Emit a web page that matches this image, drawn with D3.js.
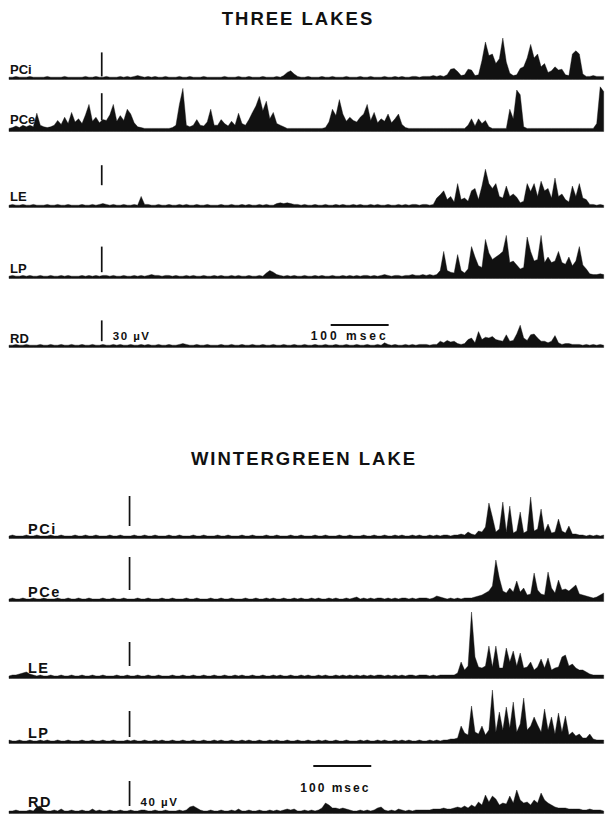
<!DOCTYPE html>
<html>
<head>
<meta charset="utf-8">
<script src="https://cdn.jsdelivr.net/npm/d3@7"></script>
<style>
  body { margin: 0; background: #fff; }
  svg { display: block; font-family: 'Liberation Sans', Arial, sans-serif; }
</style>
</head>
<body>
<svg width="606" height="821"></svg>
<script>
/* global d3 */

const titles = ['THREE LAKES', 'WINTERGREEN LAKE']
const muscles = ['PCi', 'PCe', 'LE', 'LP', 'RD']
const sampleMs = 6 // one amplitude value every 6 msec
const stimMs = [160, 208]
const calLabels = ['30 µV', '40 µV']
const timeBarMs = [[555, 655], [525, 625]]
const timeBarLabel = '100 msec'

// stimulus / calibration strokes: [bottom, top] in trace units above the baseline
const stimTL = [[2, 32], [12, 46], [26, 51], [6, 38], [6, 32]]
const stimWG = [[11, 41], [10, 43], [11, 35], [5, 31], [6, 31]]

// rectified EMG amplitude, trace units, 172 samples per trace
const tlPCi = [
  1, 1, 2, 1, 1, 1, 2, 1, 1, 1, 1, 2, 1, 1, 1, 1, 2, 1, 1, 1,
  1, 1, 2, 1, 1, 2, 1, 1, 2, 1, 1, 1, 2, 1, 2, 1, 2, 3, 2, 1,
  2, 1, 2, 1, 1, 2, 1, 1, 1, 2, 1, 1, 2, 1, 1, 1, 2, 1, 1, 1,
  1, 1, 2, 1, 1, 1, 2, 1, 1, 2, 1, 1, 1, 2, 1, 1, 1, 2, 1, 3,
  7, 9, 5, 2, 1, 1, 2, 1, 1, 1, 2, 1, 1, 2, 1, 1, 1, 2, 1, 1,
  1, 2, 1, 1, 2, 1, 1, 1, 2, 1, 1, 2, 1, 2, 1, 1, 2, 2, 1, 2,
  2, 2, 3, 2, 3, 2, 4, 11, 12, 8, 3, 4, 11, 10, 3, 4, 22, 45, 28, 30,
  18, 24, 50, 20, 6, 3, 4, 12, 14, 25, 42, 25, 30, 14, 18, 7, 9, 14, 10, 11,
  4, 3, 30, 34, 30, 5, 2, 2, 3, 2, 2, 2
]
const tlPCe = [
  2, 3, 5, 3, 6, 4, 6, 4, 21, 6, 4, 3, 4, 6, 12, 7, 16, 8, 22, 10,
  14, 8, 19, 32, 11, 16, 9, 13, 12, 19, 32, 11, 18, 12, 26, 20, 9, 4, 3, 2,
  2, 2, 2, 2, 2, 2, 2, 3, 6, 32, 52, 6, 4, 6, 13, 6, 5, 10, 26, 6,
  6, 13, 8, 5, 11, 6, 21, 8, 6, 13, 22, 30, 42, 24, 36, 14, 22, 8, 6, 4,
  2, 2, 2, 2, 2, 2, 2, 2, 2, 2, 2, 3, 10, 26, 18, 38, 20, 11, 16, 12,
  10, 16, 20, 32, 12, 22, 9, 14, 11, 20, 9, 14, 20, 7, 3, 2, 2, 2, 2, 2,
  2, 2, 2, 2, 2, 2, 2, 2, 2, 2, 2, 2, 6, 14, 5, 14, 8, 12, 4, 2,
  2, 2, 2, 2, 26, 14, 50, 44, 4, 2, 2, 2, 2, 2, 2, 2, 2, 2, 2, 2,
  2, 2, 2, 2, 2, 2, 2, 2, 2, 8, 54, 48
]
const tlLE = [
  1, 2, 1, 1, 2, 1, 1, 2, 1, 1, 1, 2, 1, 1, 2, 1, 1, 2, 1, 1,
  1, 2, 1, 1, 2, 1, 2, 3, 2, 1, 2, 1, 1, 2, 1, 1, 2, 1, 12, 2,
  2, 1, 1, 2, 1, 1, 2, 1, 1, 2, 1, 2, 1, 1, 2, 1, 1, 2, 1, 1,
  1, 2, 1, 1, 2, 1, 1, 2, 1, 2, 1, 1, 2, 1, 2, 1, 1, 3, 4, 3,
  4, 3, 2, 2, 1, 2, 1, 1, 2, 1, 1, 2, 1, 1, 2, 1, 2, 1, 1, 2,
  1, 2, 1, 1, 2, 1, 2, 1, 1, 2, 1, 1, 2, 1, 2, 1, 2, 2, 1, 2,
  2, 1, 2, 10, 14, 19, 8, 12, 5, 28, 8, 10, 6, 19, 22, 8, 25, 46, 28, 22,
  28, 12, 10, 25, 12, 15, 11, 4, 6, 28, 18, 28, 12, 31, 19, 22, 10, 35, 12, 15,
  8, 5, 25, 12, 28, 10, 8, 2, 2, 1, 2, 1
]
const tlLP = [
  1, 2, 1, 1, 2, 1, 2, 1, 1, 2, 1, 1, 2, 1, 1, 2, 1, 2, 1, 1,
  1, 2, 1, 2, 1, 2, 1, 2, 2, 1, 2, 1, 1, 2, 1, 1, 2, 1, 2, 1,
  2, 3, 2, 2, 1, 2, 2, 1, 2, 1, 1, 2, 1, 2, 1, 1, 2, 1, 1, 2,
  1, 2, 1, 1, 2, 1, 2, 1, 1, 2, 1, 1, 2, 1, 5, 8, 6, 3, 2, 1,
  2, 1, 2, 1, 1, 2, 1, 1, 2, 1, 2, 1, 1, 2, 1, 1, 2, 1, 2, 1,
  2, 1, 2, 2, 1, 2, 1, 2, 3, 2, 1, 2, 2, 1, 2, 2, 3, 2, 2, 3,
  2, 3, 2, 3, 8, 32, 8, 6, 5, 28, 8, 5, 10, 38, 25, 14, 12, 47, 30, 22,
  25, 28, 32, 52, 18, 20, 15, 10, 12, 50, 32, 20, 22, 52, 18, 25, 18, 20, 32, 18,
  16, 25, 14, 20, 38, 15, 10, 4, 3, 3, 4, 3
]
const tlRD = [
  1, 1, 2, 1, 1, 2, 1, 1, 1, 2, 1, 1, 2, 1, 1, 2, 1, 1, 2, 1,
  1, 2, 1, 1, 2, 1, 1, 2, 1, 1, 2, 1, 2, 1, 1, 2, 1, 1, 2, 1,
  2, 1, 1, 2, 1, 1, 2, 1, 1, 2, 3, 2, 1, 1, 2, 1, 1, 2, 1, 1,
  1, 2, 1, 1, 2, 1, 1, 2, 1, 1, 2, 1, 1, 2, 1, 1, 2, 1, 1, 2,
  1, 1, 2, 1, 1, 2, 1, 1, 2, 1, 1, 2, 1, 1, 2, 1, 1, 2, 1, 1,
  2, 1, 1, 2, 1, 1, 2, 1, 4, 2, 1, 2, 1, 1, 2, 1, 2, 1, 2, 2,
  2, 1, 2, 2, 6, 4, 7, 5, 6, 3, 2, 3, 8, 10, 4, 18, 8, 11, 10, 12,
  8, 7, 6, 14, 6, 7, 15, 26, 10, 7, 14, 15, 10, 6, 6, 4, 6, 13, 4, 2,
  3, 3, 2, 2, 2, 1, 2, 1, 2, 1, 2, 1
]

const wgPCi = [
  1, 2, 1, 1, 1, 2, 1, 1, 2, 1, 1, 1, 2, 1, 1, 2, 1, 1, 1, 2,
  1, 1, 2, 1, 1, 2, 1, 1, 1, 2, 1, 1, 2, 1, 1, 1, 2, 1, 1, 2,
  1, 1, 2, 1, 1, 1, 2, 1, 1, 2, 1, 1, 1, 2, 1, 1, 2, 1, 1, 1,
  2, 1, 1, 2, 1, 1, 1, 2, 1, 1, 2, 1, 1, 1, 2, 1, 1, 2, 1, 1,
  1, 2, 1, 1, 2, 1, 1, 1, 2, 1, 1, 2, 1, 1, 1, 2, 1, 1, 2, 1,
  1, 1, 2, 1, 1, 2, 1, 1, 2, 1, 1, 2, 1, 2, 1, 1, 2, 1, 2, 1,
  1, 2, 1, 2, 1, 2, 2, 1, 2, 2, 3, 2, 5, 3, 2, 6, 5, 10, 34, 20,
  5, 8, 35, 5, 31, 4, 6, 25, 4, 6, 40, 6, 8, 28, 5, 13, 4, 5, 18, 6,
  4, 11, 3, 3, 2, 2, 1, 2, 1, 2, 1, 2
]
const wgPCe = [
  1, 2, 1, 1, 2, 1, 1, 2, 1, 1, 2, 1, 1, 1, 2, 1, 1, 2, 1, 1,
  2, 1, 1, 2, 1, 1, 1, 2, 1, 1, 2, 1, 1, 2, 1, 1, 1, 2, 1, 1,
  2, 1, 1, 1, 2, 1, 1, 2, 1, 1, 1, 2, 1, 1, 2, 1, 1, 1, 2, 1,
  1, 2, 1, 1, 2, 1, 1, 1, 2, 1, 1, 2, 1, 1, 2, 1, 2, 1, 1, 2,
  1, 1, 2, 1, 2, 1, 1, 2, 1, 2, 1, 1, 2, 1, 2, 1, 1, 2, 1, 2,
  3, 1, 2, 1, 2, 1, 2, 2, 1, 2, 1, 2, 1, 2, 2, 1, 2, 1, 2, 2,
  2, 1, 2, 4, 3, 2, 1, 2, 1, 2, 1, 2, 2, 2, 3, 4, 5, 7, 9, 14,
  40, 22, 9, 7, 12, 8, 19, 8, 12, 5, 6, 27, 10, 6, 5, 28, 12, 7, 20, 10,
  11, 9, 12, 15, 6, 5, 4, 3, 2, 3, 5, 7
]
const wgLE = [
  1, 2, 2, 3, 4, 5, 3, 2, 1, 2, 1, 1, 2, 1, 1, 2, 1, 1, 2, 1,
  1, 2, 1, 1, 2, 1, 1, 2, 1, 1, 1, 2, 1, 1, 2, 1, 1, 2, 1, 1,
  2, 1, 1, 2, 1, 1, 1, 2, 1, 1, 2, 1, 1, 2, 1, 1, 2, 1, 1, 2,
  1, 1, 2, 1, 1, 2, 1, 2, 1, 1, 2, 1, 1, 2, 1, 1, 2, 1, 2, 1,
  1, 2, 1, 1, 2, 1, 2, 1, 1, 2, 1, 2, 1, 1, 2, 1, 2, 1, 2, 1,
  2, 1, 2, 1, 2, 1, 2, 2, 1, 2, 1, 2, 1, 2, 1, 2, 2, 1, 2, 2,
  2, 1, 2, 1, 2, 2, 2, 2, 2, 4, 15, 7, 11, 65, 20, 10, 9, 11, 31, 10,
  31, 9, 9, 29, 15, 26, 11, 24, 9, 10, 15, 7, 10, 18, 9, 19, 7, 9, 10, 20,
  22, 11, 13, 9, 7, 7, 5, 3, 2, 2, 2, 2
]
const wgLP = [
  2, 1, 1, 2, 1, 1, 2, 1, 1, 2, 1, 2, 1, 1, 2, 1, 1, 2, 1, 1,
  1, 2, 1, 1, 2, 1, 1, 2, 1, 1, 2, 1, 1, 1, 2, 1, 2, 1, 1, 2,
  1, 1, 2, 1, 2, 1, 1, 2, 1, 1, 2, 1, 1, 2, 1, 1, 2, 1, 1, 2,
  1, 2, 1, 1, 2, 1, 1, 2, 1, 2, 1, 1, 2, 1, 1, 2, 1, 2, 1, 1,
  2, 1, 1, 2, 1, 1, 2, 1, 1, 2, 1, 2, 1, 1, 2, 1, 1, 2, 1, 1,
  1, 2, 1, 2, 1, 1, 2, 1, 2, 1, 1, 2, 1, 2, 1, 2, 1, 1, 2, 1,
  1, 2, 1, 2, 1, 2, 2, 3, 3, 4, 16, 9, 7, 36, 10, 8, 16, 7, 12, 52,
  10, 30, 12, 35, 14, 40, 10, 18, 44, 12, 16, 25, 17, 10, 33, 12, 25, 8, 29, 10,
  26, 7, 10, 6, 8, 4, 4, 8, 3, 2, 2, 2
]
const wgRD = [
  1, 1, 2, 1, 1, 1, 2, 1, 5, 6, 2, 1, 1, 2, 1, 3, 1, 1, 2, 1,
  1, 2, 1, 1, 3, 1, 2, 1, 1, 2, 1, 1, 2, 1, 1, 2, 1, 1, 2, 2,
  1, 1, 2, 1, 1, 2, 1, 1, 1, 2, 1, 2, 5, 6, 4, 2, 1, 1, 2, 1,
  1, 2, 1, 1, 2, 1, 3, 1, 1, 2, 1, 1, 2, 1, 1, 2, 1, 2, 1, 2,
  3, 2, 3, 1, 1, 2, 1, 2, 1, 2, 4, 9, 7, 4, 4, 3, 4, 3, 2, 1,
  1, 2, 1, 2, 1, 2, 4, 5, 2, 1, 2, 1, 3, 2, 1, 2, 1, 2, 2, 2,
  2, 2, 3, 3, 3, 4, 3, 3, 4, 5, 4, 6, 4, 7, 5, 10, 7, 17, 10, 16,
  13, 7, 9, 8, 16, 9, 22, 12, 9, 10, 7, 12, 9, 19, 12, 9, 7, 5, 4, 4,
  4, 3, 3, 3, 3, 2, 2, 3, 2, 2, 2, 1
]

const traces = [
  [tlPCi, tlPCe, tlLE, tlLP, tlRD],
  [wgPCi, wgPCe, wgLE, wgLP, wgRD]
]
const stims = [stimTL, stimWG]

// page layout
const panels = [
  {
    titleX: 298, titleY: 25, gain: 0.8, base: [78, 130, 206, 277, 346], labelUp: [4, 6, 5, 4, 3],
    labelX: 10, labelSize: 13, labelSpacing: 0,
    barY: 325, timeTextX: -20, timeTextY: 340, timeSpacing: 3, calX: 11, calY: 340
  },
  {
    titleX: 304, titleY: 465, gain: 1, base: [537, 600, 677, 742, 812], labelUp: [3, 3, 4, 4, 5],
    labelX: 28, labelSize: 14.5, labelSpacing: 1.5,
    barY: 766, timeTextX: -13, timeTextY: 792, timeSpacing: 2, calX: 11, calY: 806
  }
]
const ink = '#111'

const svg = d3.select('svg')
svg.append('rect').attr('width', 606).attr('height', 821).attr('fill', '#fff')

const x = d3.scaleLinear().domain([0, 1030]).range([9, 606])

panels.forEach((p, s) => {
  const g = svg.append('g').attr('class', 'panel')

  g.append('text')
    .attr('x', p.titleX)
    .attr('y', p.titleY)
    .attr('text-anchor', 'middle')
    .attr('font-size', 18.5)
    .attr('font-weight', 'bold')
    .attr('letter-spacing', 2)
    .attr('fill', ink)
    .text(titles[s])

  muscles.forEach((m, k) => {
    const base = p.base[k]
    const y = d3.scaleLinear().domain([0, 100]).range([base, base - 100 * p.gain])

    const area = d3
      .area()
      .x((d, i) => x(i * sampleMs))
      .y0(y(0) + 1.5)
      .y1(d => y(d))

    g.append('path')
      .datum(traces[s][k])
      .attr('d', area)
      .attr('fill', ink)
      .attr('stroke', ink)
      .attr('stroke-width', 0.4)

    g.append('text')
      .attr('x', p.labelX)
      .attr('y', base - p.labelUp[k])
      .attr('font-size', p.labelSize)
      .attr('font-weight', 'bold')
      .attr('letter-spacing', p.labelSpacing)
      .attr('fill', ink)
      .text(m)

    const [lo, hi] = stims[s][k]
    g.append('line')
      .attr('x1', x(stimMs[s]))
      .attr('x2', x(stimMs[s]))
      .attr('y1', y(lo))
      .attr('y2', y(hi))
      .attr('stroke', ink)
      .attr('stroke-width', 1.7)
  })

  // calibration label next to the last stroke
  g.append('text')
    .attr('x', x(stimMs[s]) + p.calX)
    .attr('y', p.calY)
    .attr('font-size', 11.5)
    .attr('font-weight', 'bold')
    .attr('letter-spacing', 1.5)
    .attr('fill', ink)
    .text(calLabels[s])

  const [t0, t1] = timeBarMs[s]
  g.append('line')
    .attr('x1', x(t0))
    .attr('x2', x(t1))
    .attr('y1', p.barY)
    .attr('y2', p.barY)
    .attr('stroke', ink)
    .attr('stroke-width', 1.8)

  g.append('text')
    .attr('x', x(t0) + p.timeTextX)
    .attr('y', p.timeTextY)
    .attr('font-size', 12)
    .attr('font-weight', 'bold')
    .attr('letter-spacing', p.timeSpacing)
    .attr('fill', ink)
    .text(timeBarLabel)
})
</script>
</body>
</html>
